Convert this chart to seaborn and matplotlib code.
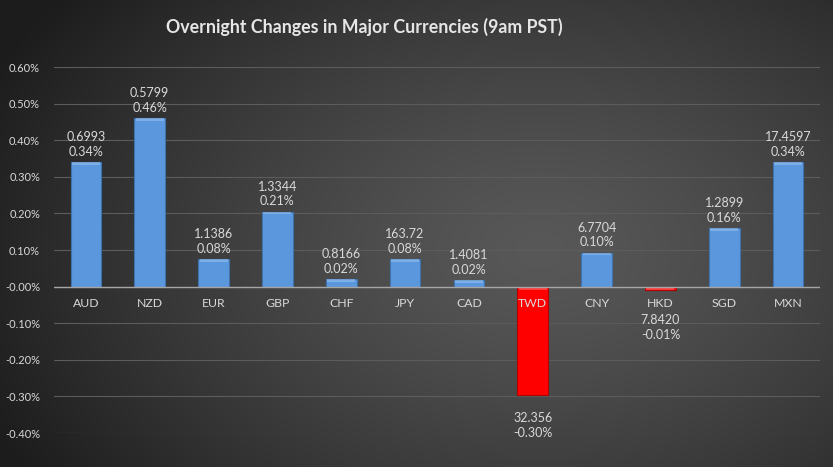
import numpy as np
import matplotlib
matplotlib.use('Agg')
import matplotlib.pyplot as plt
import seaborn as sns
from matplotlib.ticker import FuncFormatter

# ========== data ==========
currencies = ['AUD', 'NZD', 'EUR', 'GBP', 'CHF', 'JPY', 'CAD', 'TWD', 'CNY', 'HKD', 'SGD', 'MXN']
change_pct = [0.34, 0.46, 0.075, 0.205, 0.02, 0.075, 0.018, -0.297, 0.093, -0.01, 0.16, 0.34]
pct_labels = ['0.34%', '0.46%', '0.08%', '0.21%', '0.02%', '0.08%', '0.02%', '-0.30%', '0.10%', '-0.01%', '0.16%', '0.34%']
rates = ['0.6993', '0.5799', '1.1386', '1.3344', '0.8166', '163.72', '1.4081', '32.356', '6.7704', '7.8420', '1.2899', '17.4597']

BLUE = '#5b97dc'
RED = '#ff0000'
TXT = '#d9d9d9'
colors = [RED if v < 0 else BLUE for v in change_pct]

sns.set_theme(style='dark')
plt.rcParams['font.family'] = ['Lato', 'DejaVu Sans']

fig = plt.figure(figsize=(8.33, 4.67), dpi=100)

# radial gradient background
bg = fig.add_axes([0, 0, 1, 1])
yy, xx = np.mgrid[0:467, 0:833]
r = np.sqrt(((xx - 540) / 620.0) ** 2 + ((yy - 250) / 420.0) ** 2)
shade = np.clip(0.345 - 0.24 * r ** 1.3, 0.11, 1)
bg.imshow(np.dstack([shade] * 3), aspect='auto', extent=[0, 1, 0, 1])
bg.set_axis_off()

ax = fig.add_axes([54 / 833, 1 - 433 / 467, (820 - 54) / 833, (433 - 67) / 467])
ax.patch.set_alpha(0)

sns.barplot(x=currencies, y=change_pct, hue=currencies, palette=colors, legend=False,
            width=0.48, ax=ax, saturation=1)
for p in ax.patches:
    fc = p.get_facecolor()
    p.set_edgecolor('#b00000' if fc[1] < 0.2 else '#3f73b0')
    p.set_linewidth(0.8)

# bevel highlight along the upper edge of each bar
for i, v in enumerate(change_pct):
    hl = '#9cc4f0' if v >= 0 else '#ff7070'
    h = min(abs(v), 0.008)
    top = max(v, 0)
    ax.bar(i, h, bottom=top - h, width=0.44, color=hl, alpha=0.55, linewidth=0)

ax.set_ylim(-0.4, 0.6)
ax.set_xlim(-0.5, len(currencies) - 0.5)
ax.set_yticks(np.arange(-0.4, 0.61, 0.1))
ax.yaxis.set_major_formatter(FuncFormatter(lambda v, p: f'{v:.2f}%'))
ax.tick_params(axis='y', colors=TXT, labelsize=8, length=0, pad=10)
ax.set_xticks([])
ax.set_xlabel('')
ax.grid(axis='y', color='#5c5c5c', linewidth=0.8)
ax.grid(axis='x', visible=False)
ax.set_axisbelow(True)
for s in ax.spines.values():
    s.set_visible(False)
ax.axhline(0, color='#a6a6a6', linewidth=1, zorder=3)

# category labels just below zero line
for i, c in enumerate(currencies):
    ax.annotate(c, (i, 0), xytext=(0, -12), textcoords='offset points',
                ha='center', va='center', color=TXT, fontsize=8.8, zorder=5)

# value labels
for i, v in enumerate(change_pct):
    if v >= 0:
        ax.annotate(pct_labels[i], (i, v), xytext=(0, 7.5), textcoords='offset points',
                    ha='center', va='center', color=TXT, fontsize=9)
        ax.annotate(rates[i], (i, v), xytext=(0, 18), textcoords='offset points',
                    ha='center', va='center', color=TXT, fontsize=9)
    else:
        base = min(v, -0.03)
        ax.annotate(rates[i], (i, base), xytext=(0, -16), textcoords='offset points',
                    ha='center', va='center', color=TXT, fontsize=9, annotation_clip=False)
        ax.annotate(pct_labels[i], (i, base), xytext=(0, -27), textcoords='offset points',
                    ha='center', va='center', color=TXT, fontsize=9, annotation_clip=False)

fig.text(364 / 833, 1 - 27 / 467, 'Overnight Changes in Major Currencies (9am PST)',
         ha='center', va='center', color='#e6e6e6', fontsize=12.8, fontweight='bold')

plt.savefig('out.png', dpi=100)
